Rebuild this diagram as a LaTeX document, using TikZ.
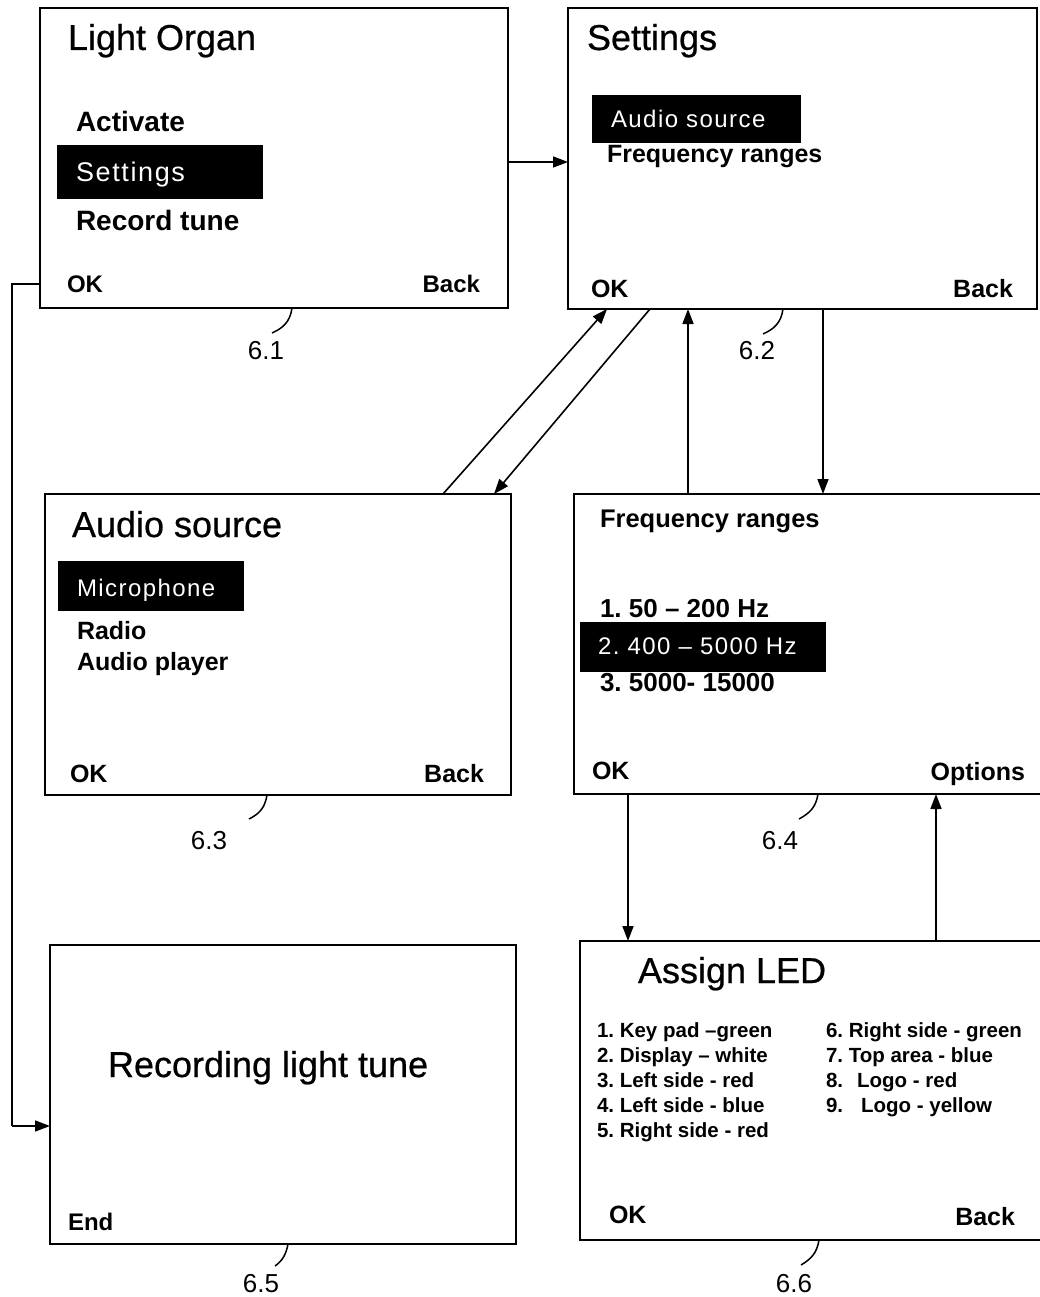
\documentclass[tikz,border=0pt]{standalone}
\usepackage{fontspec}
\setmainfont{Liberation Sans}
\newfontfamily\hlfont[LetterSpace=6]{Liberation Sans}
\newfontfamily\titlefont[FakeBold=0.6]{Liberation Sans}
\usetikzlibrary{arrows.meta}
\frenchspacing
\tikzset{
  screen/.style={draw, line width=2pt, inner sep=0pt, outer sep=0pt, anchor=north west},
  bar/.style={fill=black, draw=none, inner sep=0pt, outer sep=0pt, anchor=north west},
  txt/.style={inner sep=0pt, outer sep=0pt, anchor=base west},
  title/.style={txt, font=\fontsize{36}{40}\titlefont},
  item/.style={txt, font=\fontsize{25}{28}\selectfont\bfseries},
  bigitem/.style={txt, font=\fontsize{28}{32}\selectfont\bfseries},
  freqitem/.style={txt, font=\fontsize{26}{30}\selectfont\bfseries},
  led/.style={txt, font=\fontsize{20.5}{24}\selectfont\bfseries},
  soft/.style={txt, font=\fontsize{25}{28}\selectfont\bfseries},
  softr/.style={soft, anchor=base east},
  sel/.style={txt, text=white, font=\fontsize{24}{28}\hlfont},
  num/.style={inner sep=0pt, outer sep=0pt, anchor=base, font=\fontsize{26}{30}\selectfont},
  arr/.style={line width=1.6pt, -{Triangle[length=15pt,width=11pt]}},
  wire/.style={line width=1.6pt},
  lead/.style={line width=1.5pt}
}
\begin{document}
\begin{tikzpicture}[x=1pt,y=-1pt]
\useasboundingbox (0,0) rectangle (1040,1297);
\clip (0,0) rectangle (1040,1297);
\fill[white] (0,0) rectangle (1040,1297);

% screens
\node[screen, minimum width=468pt, minimum height=300pt] (b61) at (40,8) {};
\node[screen, minimum width=469pt, minimum height=301pt] (b62) at (568,8) {};
\node[screen, minimum width=466pt, minimum height=301pt] (b63) at (45,494) {};
\node[screen, minimum width=486pt, minimum height=300pt] (b64) at (574,494) {};
\node[screen, minimum width=466pt, minimum height=299pt] (b65) at (50,945) {};
\node[screen, minimum width=480pt, minimum height=299pt] (b66) at (580,941) {};

% selection bars
\node[bar, minimum width=206pt, minimum height=54pt] (s61) at (57,145) {};
\node[bar, minimum width=209pt, minimum height=48pt] (s62) at (592,95) {};
\node[bar, minimum width=186pt, minimum height=50pt] (s63) at (58,561) {};
\node[bar, minimum width=246pt, minimum height=50pt] (s64) at (580,622) {};

% 6.1
\node[title] (t61) at (68,50) {Light Organ};
\node[bigitem] (a61) at (76,132) {Activate};
\node[sel, font=\fontsize{27}{30}\hlfont] (c61) at (76,182) {Settings};
\node[bigitem] (d61) at (76,230) {Record tune};
\node[soft, font=\fontsize{24}{28}\selectfont\bfseries] (ok61) at (67,292) {OK};
\node[softr, font=\fontsize{24}{28}\selectfont\bfseries] (bk61) at (480,292) {Back};

% 6.2
\node[title] (t62) at (587,50) {Settings};
\node[sel] (c62) at (611,128) {Audio source};
\node[item] (d62) at (607,163) {Frequency ranges};
\node[soft] (ok62) at (591,297) {OK};
\node[softr] (bk62) at (1013,297) {Back};

% 6.3
\node[title] (t63) at (72,537) {Audio source};
\node[sel] (c63) at (77,596) {Microphone};
\node[item] (d63) at (77,639) {Radio};
\node[item] (e63) at (77,670) {Audio player};
\node[soft] (ok63) at (70,782) {OK};
\node[softr] (bk63) at (484,782) {Back};

% 6.4
\node[txt, font=\fontsize{25.5}{28}\selectfont\bfseries] (t64) at (600,527) {Frequency ranges};
\node[freqitem] (f1) at (600,617) {1. 50 – 200 Hz};
\node[sel] (f2) at (598,654) {2. 400 – 5000 Hz};
\node[freqitem] (f3) at (600,691) {3. 5000- 15000};
\node[soft] (ok64) at (592,779) {OK};
\node[softr] (op64) at (1025,780) {Options};

% 6.5
\node[title] (t65) at (108,1077) {Recording light tune};
\node[soft, font=\fontsize{24}{28}\selectfont\bfseries] (end65) at (68,1230) {End};

% 6.6
\node[title] (t66) at (638,983) {Assign LED};
\node[led] (l1) at (597,1037) {1. Key pad –green};
\node[led] (l2) at (597,1062) {2. Display – white};
\node[led] (l3) at (597,1087) {3. Left side - red};
\node[led] (l4) at (597,1112) {4. Left side - blue};
\node[led] (l5) at (597,1137) {5. Right side - red};
\node[led] (l6) at (826,1037) {6. Right side - green};
\node[led] (l7) at (826,1062) {7. Top area - blue};
\node[led] (l8) at (826,1087) {8.\hspace{14pt}Logo - red};
\node[led] (l9) at (826,1112) {9.\hspace{18pt}Logo - yellow};
\node[soft] (ok66) at (609,1223) {OK};
\node[softr] (bk66) at (1015,1225) {Back};

% reference numerals
\node[num] (n61) at (266,359) {6.1};
\node[num] (n62) at (757,359) {6.2};
\node[num] (n63) at (209,849) {6.3};
\node[num] (n64) at (780,849) {6.4};
\node[num] (n65) at (261,1292) {6.5};
\node[num] (n66) at (794,1292) {6.6};

% helper coordinates
\coordinate (x12) at (12,0);
\coordinate (x443) at (443,0);
\coordinate (x494) at (494,0);
\coordinate (x607) at (607,0);
\coordinate (x650) at (650,0);
\coordinate (x688) at (688,0);
\coordinate (x823) at (823,0);
\coordinate (x628) at (628,0);
\coordinate (x936) at (936,0);
\coordinate (y162) at (0,162);
\coordinate (y284) at (0,284);
\coordinate (y1126) at (0,1126);

% leader curves
\draw[lead] (292,308) .. controls (290,322) and (283,328) .. (272,333);
\draw[lead] (783,309) .. controls (781,323) and (774,329) .. (763,334);
\draw[lead] (267,795) .. controls (265,808) and (259,814) .. (249,819);
\draw[lead] (818,794) .. controls (816,807) and (810,813) .. (799,819);
\draw[lead] (288,1244) .. controls (286,1255) and (282,1261) .. (275,1266);
\draw[lead] (819,1240) .. controls (817,1253) and (811,1259) .. (801,1265);

% connectors
\draw[arr] (b61.east |- y162) -- (b62.west |- y162);
\draw[arr] (x443 |- b63.north) -- (x607 |- b62.south);
\draw[arr] (x650 |- b62.south) -- (x494 |- b63.north);
\draw[arr] (x688 |- b64.north) -- (x688 |- b62.south);
\draw[arr] (x823 |- b62.south) -- (x823 |- b64.north);
\draw[arr] (x628 |- b64.south) -- (x628 |- b66.north);
\draw[arr] (x936 |- b66.north) -- (x936 |- b64.south);
\coordinate (e1) at (x12 |- y284);
\coordinate (e2) at (x12 |- y1126);
\draw[wire] (b61.west |- y284) -- (e1) -- (e2);
\draw[arr] (e2) -- (b65.west |- y1126);
\end{tikzpicture}
\end{document}
